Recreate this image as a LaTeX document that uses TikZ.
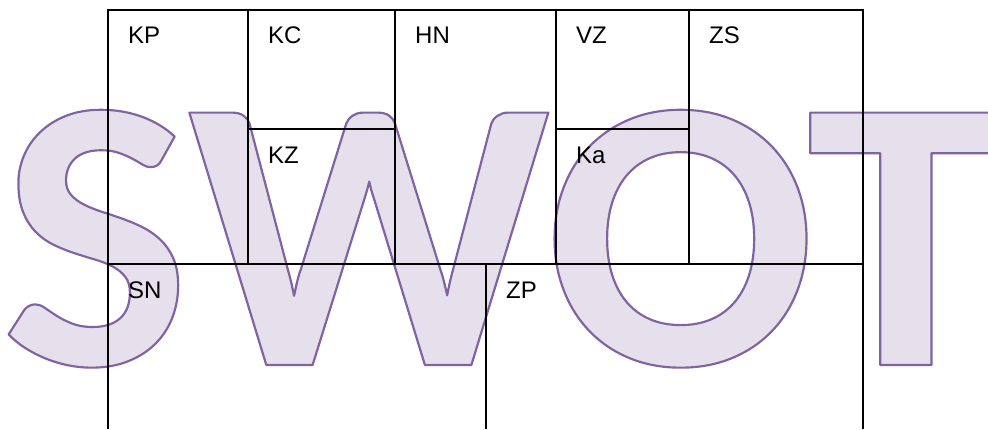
\documentclass[tikz,border=0pt]{standalone}
\usepackage{fontspec}
\setmainfont{Liberation Sans}
\newfontfamily\swotfont{Carlito}
\newcommand{\swotrender}[1]{\special{pdf:literal direct 0.902 0.878 0.925 rg 0.502 0.392 0.635 RG 2 Tr 2.2 w 1 j}#1\special{pdf:literal direct 0 Tr}}
\tikzset{
  grid line/.style={line width=2pt, black},
  cell label/.style={anchor=base west, inner sep=0pt, font=\fontsize{24}{24}\selectfont},
}
\begin{document}
\begin{tikzpicture}[x=1pt,y=-1pt]
\useasboundingbox (0,0) rectangle (988,429);
\begin{scope}
\clip (0,0) rectangle (988,429);
\node[anchor=base west, inner sep=0pt] (swot) at (1,365) {\scalebox{1}[0.973]{\swotfont\bfseries\fontsize{400}{400}\selectfont\swotrender{SWOT}}};
\end{scope}
% table lines
\coordinate (tl) at (108,10);
\coordinate (tr) at (863,10);
\coordinate (bl) at (108,429);
\coordinate (br) at (863,429);
\draw[grid line] (bl) -- (tl) -- (tr) -- (br);
\draw[grid line] (108,264) -- (863,264);
\draw[grid line] (248,10) -- (248,264);
\draw[grid line] (395,10) -- (395,264);
\draw[grid line] (556,10) -- (556,264);
\draw[grid line] (689,10) -- (689,264);
\draw[grid line] (248,129) -- (395,129);
\draw[grid line] (556,129) -- (689,129);
\draw[grid line] (486,264) -- (486,429);
% labels
\node[cell label] (kp) at (128,43) {KP};
\node[cell label] (kc) at (268,43) {KC};
\node[cell label] (hn) at (415,43) {HN};
\node[cell label] (vz) at (576,43) {VZ};
\node[cell label] (zs) at (709,43) {ZS};
\node[cell label] (kz) at (268,163) {KZ};
\node[cell label] (ka) at (576,163) {Ka};
\node[cell label] (sn) at (128,298) {SN};
\node[cell label] (zp) at (506,298) {ZP};
\end{tikzpicture}
\end{document}
